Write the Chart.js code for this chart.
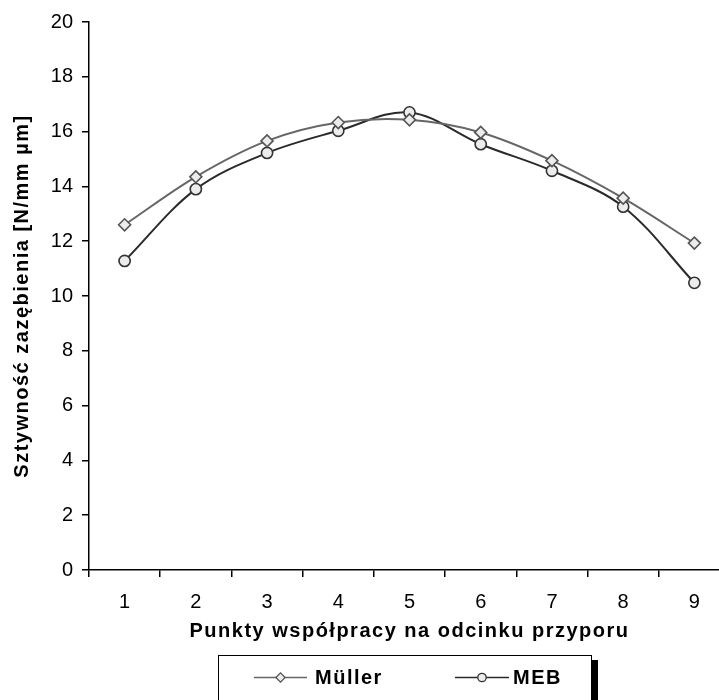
<!DOCTYPE html>
<html>
<head>
<meta charset="utf-8">
<script src="https://cdn.jsdelivr.net/npm/chart.js@4.4.1/dist/chart.umd.min.js"></script>
<style>
  html, body { margin: 0; padding: 0; background: #fff; overflow: hidden; width: 719px; height: 700px; }
  #wrap { position: absolute; left: 0; top: 0; width: 760px; height: 700px; }
</style>
</head>
<body>
<div id="wrap"><canvas id="c" width="760" height="700"></canvas></div>
<script>
const categories = ['1', '2', '3', '4', '5', '6', '7', '8', '9'];
const mullerValues = [12.6, 14.35, 15.66, 16.33, 16.43, 15.97, 14.94, 13.57, 11.93];
const mebValues = [11.28, 13.9, 15.22, 16.03, 16.7, 15.54, 14.57, 13.26, 10.48];
const seriesNames = ['Müller', 'MEB'];
const yTicks = [0, 2, 4, 6, 8, 10, 12, 14, 16, 18, 20];
const xTitle = 'Punkty współpracy na odcinku przyporu';
const yTitle = 'Sztywność zazębienia [N/mm µm]';

const FONT = '"Liberation Sans", Arial, sans-serif';

const spacedTitles = {
  id: 'spacedTitles',
  beforeDraw(chart) {
    Object.values(chart.scales).forEach(s => {
      if (!s._spacedPatched) {
        const orig = s.drawTitle.bind(s);
        s.drawTitle = function () {
          const ctx = this.ctx;
          ctx.save();
          if ('letterSpacing' in ctx) ctx.letterSpacing = '1.5px';
          orig();
          ctx.restore();
        };
        s._spacedPatched = true;
      }
    });
  }
};

const boxLegend = {
  id: 'boxLegend',
  afterDraw(chart) {
    const ctx = chart.ctx;
    ctx.save();
    ctx.fillStyle = '#000';
    ctx.fillRect(591, 660, 7, 50);
    ctx.fillStyle = '#fff';
    ctx.fillRect(218, 655, 373, 60);
    ctx.strokeStyle = '#000';
    ctx.lineWidth = 1;
    ctx.strokeRect(218.5, 655.5, 373, 60);
    const items = [
      { x0: 254, x1: 307, tx: 315 },
      { x0: 455, x1: 509, tx: 513 }
    ];
    chart.data.datasets.forEach((ds, i) => {
      const it = items[i];
      const y = 677.5;
      const cx = (it.x0 + it.x1) / 2;
      ctx.strokeStyle = ds.borderColor;
      ctx.lineWidth = 1.5;
      ctx.beginPath();
      ctx.moveTo(it.x0, y);
      ctx.lineTo(it.x1, y);
      ctx.stroke();
      ctx.fillStyle = ds.pointBackgroundColor;
      ctx.strokeStyle = ds.pointBorderColor;
      ctx.lineWidth = 1.3;
      ctx.beginPath();
      if (ds.pointStyle === 'circle') {
        ctx.arc(cx, y, 4.2, 0, Math.PI * 2);
      } else {
        const r = 4.6;
        ctx.moveTo(cx - r, y); ctx.lineTo(cx, y - r); ctx.lineTo(cx + r, y); ctx.lineTo(cx, y + r); ctx.closePath();
      }
      ctx.fill();
      ctx.stroke();
      ctx.fillStyle = '#000';
      ctx.font = 'bold 20px ' + FONT;
      if ('letterSpacing' in ctx) ctx.letterSpacing = '1.5px';
      ctx.textBaseline = 'middle';
      ctx.textAlign = 'left';
      ctx.fillText(ds.label, it.tx, y + 1);
    });
    ctx.restore();
  }
};

new Chart(document.getElementById('c'), {
  type: 'line',
  data: {
    labels: categories,
    datasets: [
      {
        label: seriesNames[0],
        data: mullerValues,
        borderColor: '#666666',
        borderWidth: 2,
        pointStyle: 'rectRot',
        pointRadius: 6,
        pointBorderWidth: 1.6,
        pointBackgroundColor: '#ececec',
        pointBorderColor: '#555555',
        tension: 0.35,
        fill: false
      },
      {
        label: seriesNames[1],
        data: mebValues,
        borderColor: '#2a2a2a',
        borderWidth: 2,
        pointStyle: 'circle',
        pointRadius: 5.6,
        pointBorderWidth: 1.6,
        pointBackgroundColor: '#ececec',
        pointBorderColor: '#333333',
        tension: 0.35,
        fill: false
      }
    ]
  },
  options: {
    responsive: false,
    animation: false,
    devicePixelRatio: 1,
    layout: { padding: { left: 10, top: 22, right: 30, bottom: 50 } },
    plugins: { legend: { display: false }, tooltip: { enabled: false } },
    scales: {
      x: {
        type: 'category',
        offset: true,
        grid: {
          display: true,
          offset: true,
          drawOnChartArea: false,
          drawTicks: true,
          tickLength: 7,
          color: '#000',
          lineWidth: 1.5
        },
        border: { display: true, color: '#000', width: 1.5 },
        ticks: {
          color: '#000',
          font: { family: FONT, size: 20 },
          padding: 13,
          maxRotation: 0
        },
        title: {
          display: true,
          text: xTitle,
          color: '#000',
          font: { family: FONT, size: 20, weight: 'bold' },
          padding: { top: 0, bottom: 7 }
        },
        afterFit(scale) { scale.height = 80; }
      },
      y: {
        min: 0,
        max: 20,
        afterBuildTicks(scale) { scale.ticks = yTicks.map(v => ({ value: v })); },
        grid: {
          display: true,
          drawOnChartArea: false,
          drawTicks: true,
          tickLength: 7,
          color: '#000',
          lineWidth: 1.5
        },
        border: { display: true, color: '#000', width: 1.5 },
        ticks: {
          color: '#000',
          font: { family: FONT, size: 20 },
          padding: 9
        },
        title: {
          display: true,
          text: yTitle,
          color: '#000',
          font: { family: FONT, size: 20, weight: 'bold' },
          padding: { top: 0, bottom: 0 }
        },
        afterFit(scale) { scale.width = 79; }
      }
    }
  },
  plugins: [spacedTitles, boxLegend]
});
</script>
</body>
</html>
